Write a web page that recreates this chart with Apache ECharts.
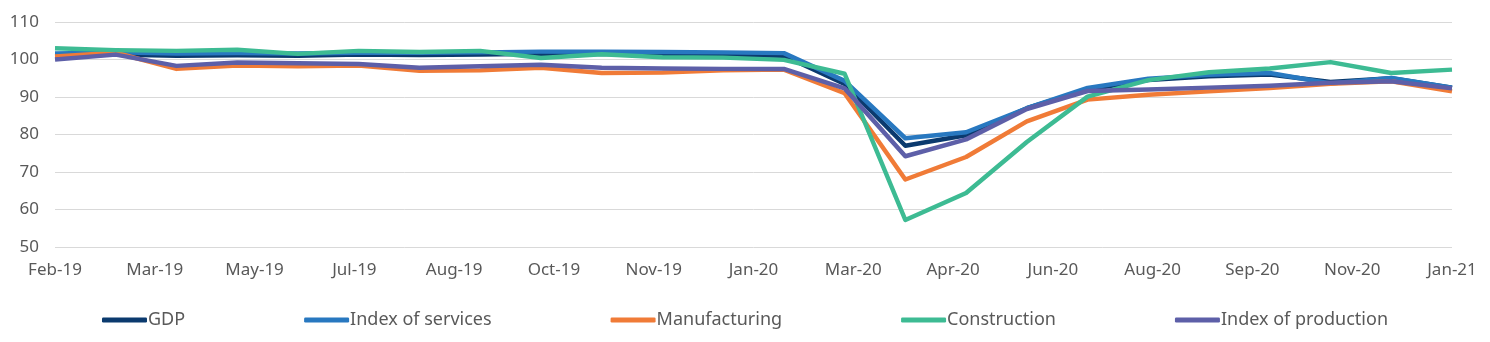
<!DOCTYPE html>
<html>
<head>
<meta charset="utf-8">
<script src="https://cdn.jsdelivr.net/npm/echarts@6/dist/echarts.min.js"></script>
<style>
  html, body { margin: 0; padding: 0; background: #ffffff; }
  #chart { width: 1490px; height: 342px; }
</style>
</head>
<body>
<div id="chart"></div>
<script>
// Monthly observations, Feb 2019 to Jan 2021 (index, Feb 2019 = 100 approx.)
const months = [
  'Feb-19','Mar-19','Apr-19','May-19','Jun-19','Jul-19','Aug-19','Sep-19',
  'Oct-19','Nov-19','Dec-19','Jan-20','Feb-20','Mar-20','Apr-20','May-20',
  'Jun-20','Jul-20','Aug-20','Sep-20','Oct-20','Nov-20','Dec-20','Jan-21'
];

// Labels shown along the horizontal axis (evenly spaced)
const tickLabels = [
  'Feb-19','Mar-19','May-19','Jul-19','Aug-19','Oct-19','Nov-19','Jan-20',
  'Mar-20','Apr-20','Jun-20','Aug-20','Sep-20','Nov-20','Jan-21'
];

const gdp = [101.0, 101.3, 101.0, 101.1, 101.0, 101.3, 101.2, 101.3,
             101.5, 101.5, 101.4, 101.2, 101.0, 93.5, 77.0, 79.8,
             87.0, 92.0, 94.5, 95.5, 96.0, 94.0, 95.0, 92.5];

const services = [101.6, 101.9, 101.6, 101.7, 101.6, 101.8, 101.8, 101.9,
                  102.1, 102.1, 102.0, 101.9, 101.7, 94.3, 79.0, 80.6,
                  87.0, 92.4, 94.9, 95.9, 96.4, 93.6, 95.1, 92.5];

const manufacturing = [100.8, 101.8, 97.5, 98.4, 98.2, 98.4, 97.0, 97.1,
                       97.8, 96.4, 96.5, 97.1, 97.3, 91.0, 68.0, 74.0,
                       83.5, 89.3, 90.6, 91.5, 92.4, 93.5, 94.2, 91.5];

const construction = [103.0, 102.5, 102.3, 102.6, 101.5, 102.3, 102.0, 102.3,
                      100.4, 101.4, 100.6, 100.5, 99.9, 96.2, 57.2, 64.4,
                      78.0, 90.1, 94.5, 96.6, 97.6, 99.3, 96.4, 97.3];

const production = [100.0, 101.3, 98.3, 99.2, 99.0, 98.8, 97.8, 98.2,
                    98.6, 97.8, 97.6, 97.5, 97.5, 92.3, 74.2, 78.7,
                    86.8, 91.6, 92.0, 92.5, 93.0, 93.8, 94.2, 92.3];

const seriesNames = ['GDP', 'Index of services', 'Manufacturing', 'Construction', 'Index of production'];
const seriesData = [gdp, services, manufacturing, construction, production];
const seriesColors = ['#0b3a6e', '#2878c0', '#f07b37', '#3dbb93', '#5d5fa8'];

const textColor = '#595959';
const fontFamily = '"Noto Sans", "Open Sans", sans-serif';

const chart = echarts.init(document.getElementById('chart'), null, { renderer: 'canvas' });

chart.setOption({
  animation: false,
  backgroundColor: '#ffffff',
  grid: { left: 55, right: 38, top: 22, bottom: 95, containLabel: false },
  legend: {
    bottom: 8,
    left: 'center',
    icon: 'roundRect',
    itemWidth: 45,
    itemHeight: 5,
    itemGap: 119,
    textStyle: { color: textColor, fontSize: 18, fontFamily: fontFamily, padding: [0, 0, 0, -4] },
    data: seriesNames
  },
  xAxis: [
    {
      // data axis: one slot per month
      type: 'category',
      data: months,
      boundaryGap: false,
      position: 'top',
      axisLine: { show: false },
      axisTick: { show: false },
      axisLabel: { show: false },
      splitLine: { show: false }
    },
    {
      // label axis: evenly spaced date labels
      type: 'category',
      data: tickLabels,
      boundaryGap: false,
      position: 'bottom',
      axisLine: { show: false },
      axisTick: { show: false },
      splitLine: { show: false },
      axisLabel: {
        interval: 0,
        margin: 15,
        color: textColor,
        fontSize: 17,
        fontFamily: fontFamily
      }
    }
  ],
  yAxis: {
    type: 'value',
    min: 50,
    max: 110,
    interval: 10,
    axisLine: { show: false },
    axisTick: { show: false },
    axisLabel: { color: textColor, fontSize: 17, fontFamily: fontFamily, margin: 16 },
    splitLine: { lineStyle: { color: '#d9d9d9', width: 1 } }
  },
  series: seriesNames.map((name, i) => ({
    name: name,
    type: 'line',
    xAxisIndex: 0,
    data: seriesData[i],
    showSymbol: false,
    symbol: 'none',
    color: seriesColors[i],
    lineStyle: { width: 4.5, color: seriesColors[i], join: 'round' },
    z: 2 + i
  }))
});
</script>
</body>
</html>
